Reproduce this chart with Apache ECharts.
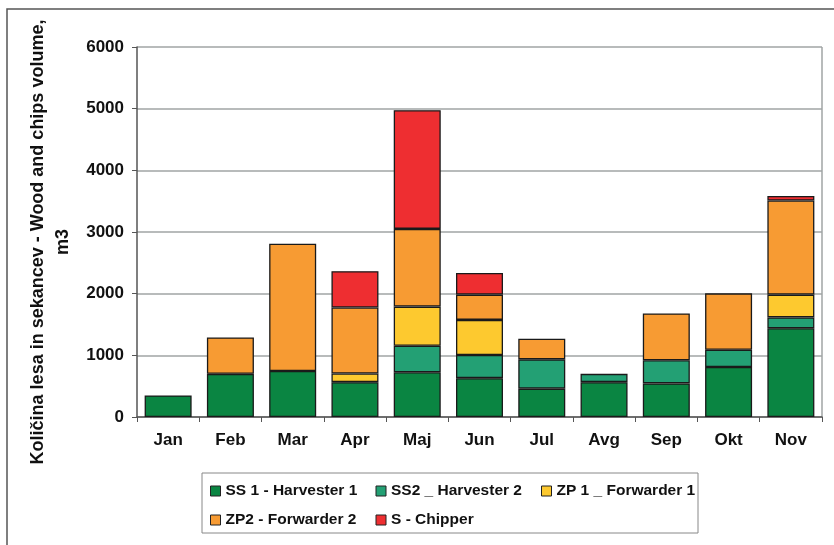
<!DOCTYPE html>
<html>
<head>
<meta charset="utf-8">
<script src="https://cdn.jsdelivr.net/npm/echarts@6/dist/echarts.min.js"></script>
<style>
  html, body { margin: 0; padding: 0; background: #fff; }
  #chart { width: 834px; height: 545px; }
</style>
</head>
<body>
<div id="chart"></div>
<script>
const months = ['Jan', 'Feb', 'Mar', 'Apr', 'Maj', 'Jun', 'Jul', 'Avg', 'Sep', 'Okt', 'Nov']
const ss1 = [350, 700, 745, 565, 725, 630, 460, 565, 545, 810, 1440]
const ss2 = [0, 0, 0, 0, 430, 375, 475, 135, 375, 280, 175]
const zp1 = [0, 0, 0, 140, 635, 570, 0, 0, 0, 0, 370]
const zp2 = [0, 590, 2065, 1070, 1260, 410, 335, 0, 760, 915, 1525]
const chipper = [0, 0, 0, 590, 1925, 350, 0, 0, 0, 0, 75]
const yTicks = [0, 1000, 2000, 3000, 4000, 5000, 6000]

const seriesList = [
  { name: 'SS 1 - Harvester 1', data: ss1, color: '#0a8542' },
  { name: 'SS2 _ Harvester 2', data: ss2, color: '#23a074' },
  { name: 'ZP 1 _ Forwarder 1', data: zp1, color: '#fdc92f' },
  { name: 'ZP2 - Forwarder 2', data: zp2, color: '#f79b33' },
  { name: 'S - Chipper', data: chipper, color: '#ee2e31' },
]

const font = 'Liberation Sans, Arial, sans-serif'
const myChart = echarts.init(document.getElementById('chart'))

myChart.setOption({
  animation: false,
  grid: { left: 137, right: 12, top: 47, bottom: 128, outerBoundsMode: 'none', containLabel: false },
  graphic: [
    {
      type: 'polyline',
      shape: { points: [[7, 545], [7, 9], [834, 9]] },
      style: { stroke: '#555', lineWidth: 1.5, fill: null },
    },
    {
      type: 'rect',
      shape: { x: 202, y: 473, width: 496, height: 60 },
      style: { stroke: '#888', lineWidth: 1, fill: null },
    },
    {
      type: 'line',
      shape: { x1: 822, y1: 47, x2: 822, y2: 417 },
      style: { stroke: '#a0a4a4', lineWidth: 1.5 },
    },
  ],
  legend: {
    data: seriesList.map(s => s.name),
    left: 205,
    top: 476,
    width: 492,
    itemWidth: 10,
    itemHeight: 10,
    itemGap: 9,
    icon: 'rect',
    itemStyle: { borderColor: '#222', borderWidth: 1 },
    textStyle: {
      fontFamily: font,
      fontWeight: 'bold',
      fontSize: 15.5,
      color: '#111',
      width: 141,
      lineHeight: 20,
    },
  },
  xAxis: {
    type: 'category',
    data: months,
    axisLine: { lineStyle: { color: '#555', width: 1.5 } },
    axisTick: { show: true, length: 5, lineStyle: { color: '#555' } },
    axisLabel: {
      fontFamily: font,
      fontWeight: 'bold',
      fontSize: 17,
      color: '#111',
      margin: 15,
    },
  },
  yAxis: {
    type: 'value',
    min: yTicks[0],
    max: yTicks[yTicks.length - 1],
    interval: 1000,
    name: 'Količina lesa in sekancev - Wood and chips volume,\nm3',
    nameLocation: 'middle',
    nameGap: 58,
    nameTextStyle: {
      fontFamily: font,
      fontWeight: 'bold',
      fontSize: 18,
      color: '#111',
      lineHeight: 25,
      padding: [0, 20, 0, 0],
    },
    axisLine: { show: true, lineStyle: { color: '#555', width: 1.5 } },
    axisTick: { show: true, inside: false, length: 5, lineStyle: { color: '#555' } },
    axisLabel: {
      fontFamily: font,
      fontWeight: 'bold',
      fontSize: 17,
      color: '#111',
      margin: 13,
      formatter: v => String(v),
    },
    splitLine: { lineStyle: { color: '#a0a4a4', width: 1.5 } },
  },
  series: seriesList.map(s => ({
    name: s.name,
    type: 'bar',
    stack: 'total',
    barWidth: 47,
    data: s.data.map(v => (v === 0 ? null : v)),
    itemStyle: { color: s.color, borderColor: '#1a1a1a', borderWidth: 1.3 },
  })),
})
</script>
</body>
</html>
